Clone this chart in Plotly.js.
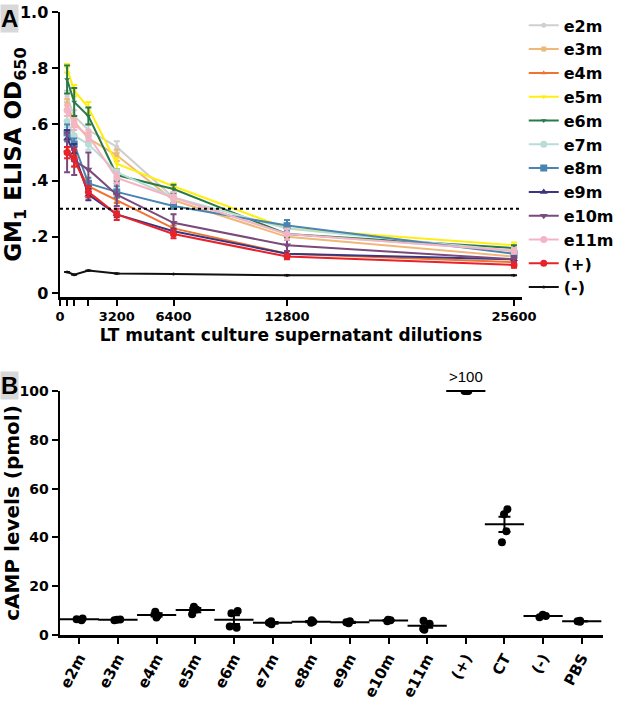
<!DOCTYPE html>
<html>
<head>
<meta charset="utf-8">
<script src="https://cdn.plot.ly/plotly-3.0.1.min.js"></script>
<style>html,body{margin:0;padding:0;background:#fff;}#chart{width:625px;height:702px;}</style>
</head>
<body>
<div id="chart"></div>
<script>
// ---------- Panel A data ----------
const dilutions = [400, 800, 1600, 3200, 6400, 12800, 25600];
const seriesNames = ['e2m','e3m','e4m','e5m','e6m','e7m','e8m','e9m','e10m','e11m','(+)','(-)'];
const e2m  = [0.70, 0.63, 0.58, 0.52, 0.34, 0.21, 0.15];
const e3m  = [0.67, 0.61, 0.55, 0.49, 0.33, 0.20, 0.13];
const e4m  = [0.52, 0.47, 0.38, 0.33, 0.23, 0.14, 0.11];
const e5m  = [0.80, 0.72, 0.66, 0.46, 0.38, 0.23, 0.17];
const e6m  = [0.76, 0.68, 0.63, 0.42, 0.37, 0.21, 0.16];
const e7m  = [0.61, 0.56, 0.53, 0.43, 0.34, 0.23, 0.15];
const e8m  = [0.57, 0.53, 0.39, 0.36, 0.31, 0.24, 0.14];
const e9m  = [0.55, 0.50, 0.35, 0.28, 0.22, 0.14, 0.12];
const e10m = [0.50, 0.47, 0.44, 0.35, 0.25, 0.17, 0.12];
const e11m = [0.65, 0.60, 0.56, 0.41, 0.34, 0.21, 0.15];
const posA = [0.50, 0.48, 0.36, 0.28, 0.21, 0.13, 0.10];
const negA = [0.075, 0.065, 0.08, 0.07, 0.068, 0.063, 0.063];
const seriesValues = [e2m,e3m,e4m,e5m,e6m,e7m,e8m,e9m,e10m,e11m,posA,negA];
// SEM error values
const e2mErr  = [0.02,0.02,0.02,0.02,0.01,0.01,0.01];
const e3mErr  = [0.02,0.02,0.02,0.02,0.01,0.01,0.01];
const e4mErr  = [0.02,0.02,0.02,0.01,0.01,0.01,0.01];
const e5mErr  = [0.015,0.02,0.02,0.02,0.01,0.01,0.01];
const e6mErr  = [0.05,0.05,0.03,0.02,0.015,0.01,0.01];
const e7mErr  = [0.02,0.02,0.02,0.01,0.01,0.01,0.01];
const e8mErr  = [0.03,0.02,0.02,0.02,0.01,0.02,0.01];
const e9mErr  = [0.03,0.03,0.02,0.01,0.01,0.01,0.01];
const e10mErr = [0.07,0.05,0.06,0.04,0.03,0.02,0.01];
const e11mErr = [0.02,0.02,0.02,0.02,0.02,0.02,0.01];
const posAErr = [0.02,0.03,0.02,0.02,0.015,0.01,0.01];
const negAErr = [0,0,0,0,0,0,0];
const seriesErrors = [e2mErr,e3mErr,e4mErr,e5mErr,e6mErr,e7mErr,e8mErr,e9mErr,e10mErr,e11mErr,posAErr,negAErr];
const xTickVals = [0, 3200, 6400, 12800, 25600];
const xTickText = ['0', '3200', '6400', '12800', '25600'];
const xMinorTickVals = [400, 800, 1600];
const yTickValsA = [0, 0.2, 0.4, 0.6, 0.8, 1.0];
const yTickTextA = ['0', '.2', '.4', '.6', '.8', '1.0'];
const threshold = 0.3;

// ---------- Panel B data ----------
const categoriesB = ['e2m','e3m','e4m','e5m','e6m','e7m','e8m','e9m','e10m','e11m','(+)','CT','(-)','PBS'];
const replicatesB = [
  [6.0, 6.5, 6.8],
  [6.0, 6.2, 6.4],
  [7.2, 8.0, 9.5],
  [8.5, 10.5, 11.6],
  [9.8, 8.9, 3.5, 3.0],
  [4.4, 5.0, 5.6],
  [5.0, 5.4, 6.0],
  [4.8, 5.2, 5.6],
  [5.6, 6.0, 6.3],
  [5.8, 2.2, 2.6, 4.6],
  [100, 100, 100],
  [51.5, 49.5, 42.5, 38.0],
  [7.3, 7.8, 8.3],
  [5.4, 5.6, 5.8]
];
const yTickValsB = [0, 20, 40, 60, 80, 100];
const overLabel = '>100';

// ---------- styles ----------
const colors = ['#cfcfcf','#f0b878','#ee7430','#ffee10','#2a7a48','#b8ddd6','#4a84b0','#3a3680','#7a4a7c','#f4b4c6','#e8222a','#111111'];
const symbols = ['circle','square','triangle-up','triangle-down','triangle-down','circle','square','triangle-up','triangle-down','circle','circle','circle'];
const msizes = [5,5,5,5,5,7,7,7,7,7,7,3];
const FONT = 'Arial, "Liberation Sans", sans-serif';
const BFONT = '"DejaVu Sans", Arial, sans-serif';

const traces = [];
seriesNames.forEach((name, i) => {
  traces.push({
    type: 'scatter', mode: 'lines+markers', name: name,
    x: dilutions, y: seriesValues[i],
    xaxis: 'x', yaxis: 'y',
    line: {color: colors[i], width: 2},
    marker: {color: colors[i], symbol: symbols[i], size: msizes[i]},
    error_y: {type: 'data', array: seriesErrors[i], visible: true, color: colors[i], thickness: 2, width: 3},
    cliponaxis: false
  });
});

// Panel B points
const bx = [], by = [];
replicatesB.forEach((vals, i) => vals.forEach(v => { bx.push(categoriesB[i]); by.push(v); }));
traces.push({
  type: 'box', x: bx, y: by, xaxis: 'x2', yaxis: 'y2', showlegend: false,
  boxpoints: 'all', jitter: 0.45, pointpos: 0,
  fillcolor: 'rgba(0,0,0,0)', line: {color: 'rgba(0,0,0,0)', width: 0},
  marker: {color: '#000', size: 8},
  hoverinfo: 'skip'
});
// Mean and SEM
const means = replicatesB.map(v => v.reduce((a,b)=>a+b,0)/v.length);
const sems = replicatesB.map((v, i) => {
  const m = means[i];
  const sd = Math.sqrt(v.reduce((a,b)=>a+(b-m)*(b-m),0)/(v.length-1));
  return sd/Math.sqrt(v.length);
});
traces.push({
  type: 'scatter', mode: 'markers', x: categoriesB, y: means, xaxis: 'x2', yaxis: 'y2',
  showlegend: false, cliponaxis: false,
  marker: {symbol: 'line-ew', size: 28, color: '#000', line: {color: '#000', width: 2}},
  error_y: {type: 'data', array: sems, visible: true, color: '#000', thickness: 2, width: 6}
});

const axisCommon = {
  showline: true, linecolor: '#000', linewidth: 2.5, ticks: 'outside', ticklen: 6, tickwidth: 2,
  tickcolor: '#000', showgrid: false, zeroline: false, mirror: false
};

const layout = {
  width: 625, height: 702,
  margin: {l: 0, r: 0, t: 0, b: 0},
  paper_bgcolor: '#fff', plot_bgcolor: '#fff',
  font: {family: FONT, color: '#000'},
  showlegend: true,
  legend: {x: 0.838, y: 0.988, xanchor: 'left', yanchor: 'top',
           font: {family: BFONT, size: 16, color: '#000', weight: 'bold'},
           bgcolor: 'rgba(0,0,0,0)', tracegroupgap: 0},
  xaxis: Object.assign({}, axisCommon, {
    domain: [60/625, 522/625], anchor: 'y', range: [0, 26050],
    tickmode: 'array', tickvals: xTickVals, ticktext: xTickText,
    minor: {tickmode: 'array', tickvals: xMinorTickVals, ticks: 'outside', ticklen: 6, tickwidth: 2, tickcolor: '#000', showgrid: false},
    tickfont: {family: BFONT, size: 13, weight: 'bold'},
    title: {text: 'LT mutant culture supernatant dilutions', font: {family: BFONT, size: 17, weight: 'bold'}, standoff: 6}
  }),
  yaxis: Object.assign({}, axisCommon, {
    domain: [1 - 297/702, 1 - 12/702], anchor: 'x', range: [-0.014, 1.0],
    tickmode: 'array', tickvals: yTickValsA, ticktext: yTickTextA,
    tickfont: {family: BFONT, size: 16, weight: 'bold'},
    title: {text: 'GM<sub>1</sub> ELISA OD<sub>650</sub>', font: {family: BFONT, size: 23, weight: 'bold'}, standoff: 6}
  }),
  xaxis2: Object.assign({}, axisCommon, {
    domain: [60/625, 603/625], anchor: 'y2', type: 'category',
    categoryorder: 'array', categoryarray: categoriesB, range: [-0.5, 13.55],
    tickangle: -62, tickfont: {family: BFONT, size: 15, weight: 'bold'}
  }),
  yaxis2: Object.assign({}, axisCommon, {
    domain: [1 - 635/702, 1 - 391/702], anchor: 'x2', range: [0, 100],
    tickmode: 'array', tickvals: yTickValsB,
    tickfont: {family: BFONT, size: 14, weight: 'bold'},
    title: {text: 'cAMP levels (pmol)', font: {family: BFONT, size: 20, weight: 'bold'}, standoff: 6}
  }),
  shapes: [{
    type: 'line', xref: 'x domain', yref: 'y', x0: 0, x1: 1, y0: threshold, y1: threshold,
    line: {color: '#000', width: 2, dash: 'dot'}
  }],
  annotations: [
    {text: '<b>A</b>', xref: 'paper', yref: 'paper', x: 0, y: 1 - 4/702, xanchor: 'left', yanchor: 'top',
     showarrow: false, font: {family: FONT, size: 24, color: '#000'}, bgcolor: '#d8d8d8', borderpad: 0},
    {text: '<b>B</b>', xref: 'paper', yref: 'paper', x: 0, y: 1 - 371/702, xanchor: 'left', yanchor: 'top',
     showarrow: false, font: {family: FONT, size: 24, color: '#000'}, bgcolor: '#d8d8d8', borderpad: 0},
    {text: overLabel, xref: 'x2', yref: 'y2', x: categoriesB[10], y: means[10], yshift: 4, yanchor: 'bottom',
     showarrow: false, font: {family: FONT, size: 15, color: '#000'}}
  ]
};

Plotly.newPlot('chart', traces, layout, {displayModeBar: false, staticPlot: true});
</script>
</body>
</html>
